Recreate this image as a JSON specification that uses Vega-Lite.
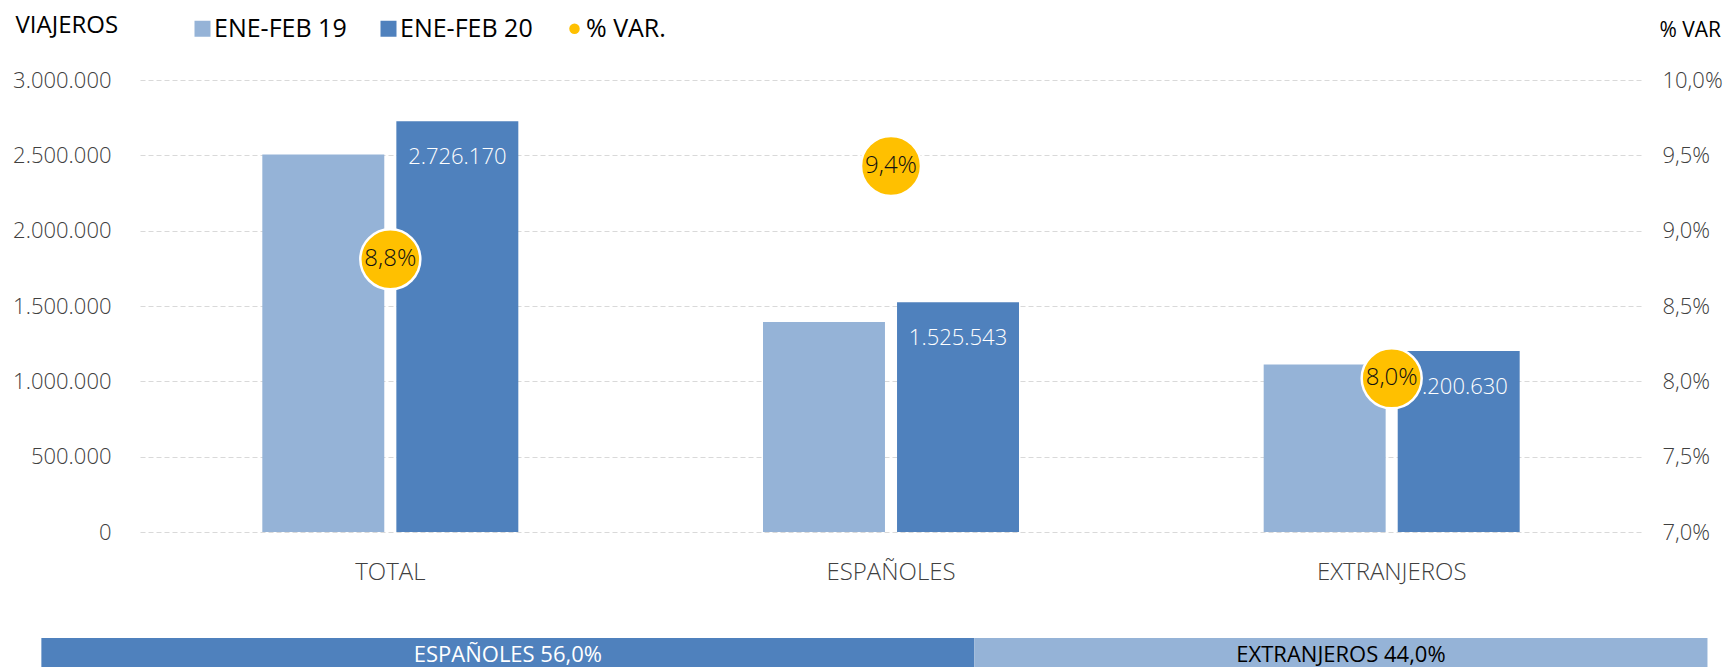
{
  "$schema": "https://vega.github.io/schema/vega-lite/v6.json",
  "background": "white",
  "padding": {"left": 12, "top": 13, "right": 5, "bottom": 0},
  "config": {
    "locale": {"number": {"decimal": ",", "thousands": ".", "grouping": [3], "currency": ["", " €"]}},
    "font": "Open Sans",
    "view": {"stroke": null}
  },
  "datasets": {
    "viajeros": [
      {"categoria": "TOTAL", "periodo": "ENE-FEB 19", "viajeros": 2505400},
      {"categoria": "TOTAL", "periodo": "ENE-FEB 20", "viajeros": 2726170},
      {"categoria": "ESPAÑOLES", "periodo": "ENE-FEB 19", "viajeros": 1394100},
      {"categoria": "ESPAÑOLES", "periodo": "ENE-FEB 20", "viajeros": 1525543},
      {"categoria": "EXTRANJEROS", "periodo": "ENE-FEB 19", "viajeros": 1111500},
      {"categoria": "EXTRANJEROS", "periodo": "ENE-FEB 20", "viajeros": 1200630}
    ],
    "variacion": [
      {"categoria": "TOTAL", "var": 0.0881},
      {"categoria": "ESPAÑOLES", "var": 0.0943},
      {"categoria": "EXTRANJEROS", "var": 0.0802}
    ],
    "cuota": [
      {"indicador": "cuota", "grupo": "ESPAÑOLES", "cuota": 0.56, "etiqueta": "ESPAÑOLES 56,0%"},
      {"indicador": "cuota", "grupo": "EXTRANJEROS", "cuota": 0.44, "etiqueta": "EXTRANJEROS 44,0%"}
    ]
  },
  "resolve": {"scale": {"color": "independent"}},
  "bounds": "flush",
  "spacing": 106,
  "vconcat": [
    {
      "width": 1502,
      "height": 452,
      "resolve": {"scale": {"y": "independent"}},
      "layer": [
        {
          "data": {"name": "viajeros"},
          "layer": [
            {
              "mark": {"type": "bar"},
              "encoding": {
                "x": {
                  "field": "categoria", "type": "nominal",
                  "sort": ["TOTAL", "ESPAÑOLES", "EXTRANJEROS"],
                  "scale": {"paddingInner": 0.4887, "paddingOuter": 0.2443},
                  "axis": {"title": null, "labelAngle": 0, "ticks": false, "tickSize": 0, "domain": false, "labelPadding": 28, "labelFontSize": 24, "labelColor": "#404040", "labelFontWeight": 300, "labelFont": "Open Sans"}
                },
                "xOffset": {"field": "periodo", "type": "nominal", "scale": {"paddingInner": 0.09}},
                "y": {
                  "field": "viajeros", "type": "quantitative",
                  "scale": {"domain": [0, 3000000]},
                  "axis": {
                    "values": [0, 500000, 1000000, 1500000, 2000000, 2500000, 3000000],
                    "format": ",d",
                    "title": "VIAJEROS", "titleAngle": 0, "titleAlign": "left", "titleBaseline": "middle",
                    "titleX": -125, "titleY": -55, "titleFontSize": 24, "titleFontWeight": "normal", "titleColor": "#000000", "titleFont": "Open Sans",
                    "domain": false, "ticks": false, "tickSize": 0, "labelPadding": 29,
                    "labelFontSize": 22, "labelColor": "#404040", "labelFontWeight": 300, "labelFont": "Open Sans",
                    "grid": true, "gridColor": "#D9D9D9", "gridDash": [5, 3], "gridWidth": 1
                  }
                },
                "color": {
                  "field": "periodo", "type": "nominal",
                  "scale": {"domain": ["ENE-FEB 19", "ENE-FEB 20", "% VAR."], "range": ["#95B3D7", "#4F81BD", "#FFC000"]},
                  "legend": {
                    "title": null, "orient": "none", "legendX": 50, "legendY": -64, "direction": "horizontal",
                    "labelFontSize": 25, "labelColor": "#000000", "labelFont": "Open Sans",
                    "columnPadding": 29, "labelOffset": -1, "symbolSize": 256, "symbolStrokeWidth": 0, "symbolType": "square",
                    "encode": {
                      "symbols": {"update": {
                        "shape": {"signal": "datum.value === '% VAR.' ? 'circle' : 'square'"},
                        "size": {"signal": "datum.value === '% VAR.' ? 110 : 256"}
                      }}
                    }
                  }
                }
              }
            },
            {
              "transform": [{"filter": "datum.periodo === 'ENE-FEB 20'"}],
              "mark": {"type": "text", "baseline": "middle", "dy": 36, "color": "white", "fontSize": 22, "fontWeight": 300, "font": "Open Sans"},
              "encoding": {
                "x": {"field": "categoria", "type": "nominal", "sort": ["TOTAL", "ESPAÑOLES", "EXTRANJEROS"]},
                "xOffset": {"field": "periodo", "type": "nominal"},
                "y": {"field": "viajeros", "type": "quantitative"},
                "text": {"field": "viajeros", "type": "quantitative", "format": ",d"}
              }
            }
          ]
        },
        {
          "data": {"name": "variacion"},
          "layer": [
            {
              "mark": {"type": "point", "filled": true, "size": 3600, "stroke": "white", "strokeWidth": 2.5, "opacity": 1},
              "encoding": {
                "x": {"field": "categoria", "type": "nominal", "sort": ["TOTAL", "ESPAÑOLES", "EXTRANJEROS"]},
                "y": {
                  "field": "var", "type": "quantitative",
                  "scale": {"domain": [0.07, 0.10]},
                  "axis": {
                    "orient": "right",
                    "values": [0.07, 0.075, 0.08, 0.085, 0.09, 0.095, 0.10],
                    "format": ".1%",
                    "title": "% VAR", "titleAngle": 0, "titleAlign": "left", "titleBaseline": "middle",
                    "titleX": 17, "titleY": -50, "titleFontSize": 21, "titleFontWeight": "normal", "titleColor": "#000000", "titleFont": "Open Sans",
                    "domain": false, "ticks": false, "tickSize": 0, "labelPadding": 20, "grid": false,
                    "labelFontSize": 22, "labelColor": "#404040", "labelFontWeight": 300, "labelFont": "Open Sans"
                  }
                },
                "color": {"datum": "% VAR."}
              }
            },
            {
              "mark": {"type": "text", "baseline": "middle", "color": "#111111", "fontSize": 24, "fontWeight": 300, "font": "Open Sans"},
              "encoding": {
                "x": {"field": "categoria", "type": "nominal", "sort": ["TOTAL", "ESPAÑOLES", "EXTRANJEROS"]},
                "y": {"field": "var", "type": "quantitative"},
                "text": {"field": "var", "type": "quantitative", "format": ".1%"}
              }
            }
          ]
        }
      ]
    },
    {
      "width": 1502,
      "height": 29,
      "data": {"name": "cuota"},
      "encoding": {
        "y": {"field": "indicador", "type": "nominal", "scale": {"paddingInner": 0, "paddingOuter": 0}, "axis": null}
      },
      "layer": [
        {
          "mark": {"type": "bar", "clip": false},
          "encoding": {
            "x": {"field": "cuota", "type": "quantitative", "stack": "zero", "scale": {"domain": [0.0592, 0.9607], "clamp": false, "nice": false, "zero": false}, "axis": null},
            "order": {"field": "grupo"},
            "color": {"field": "grupo", "type": "nominal", "scale": {"domain": ["ESPAÑOLES", "EXTRANJEROS"], "range": ["#4F81BD", "#95B3D7"]}, "legend": null}
          }
        },
        {
          "mark": {"type": "text", "baseline": "middle", "dy": 2, "fontSize": 22, "font": "Open Sans", "clip": false},
          "encoding": {
            "x": {"field": "cuota", "type": "quantitative", "stack": "zero", "bandPosition": 0.5},
            "detail": {"field": "grupo"},
            "order": {"field": "grupo"},
            "text": {"field": "etiqueta"},
            "color": {"condition": {"test": "datum.grupo === 'ESPAÑOLES'", "value": "white"}, "value": "black"}
          }
        }
      ]
    }
  ]
}
